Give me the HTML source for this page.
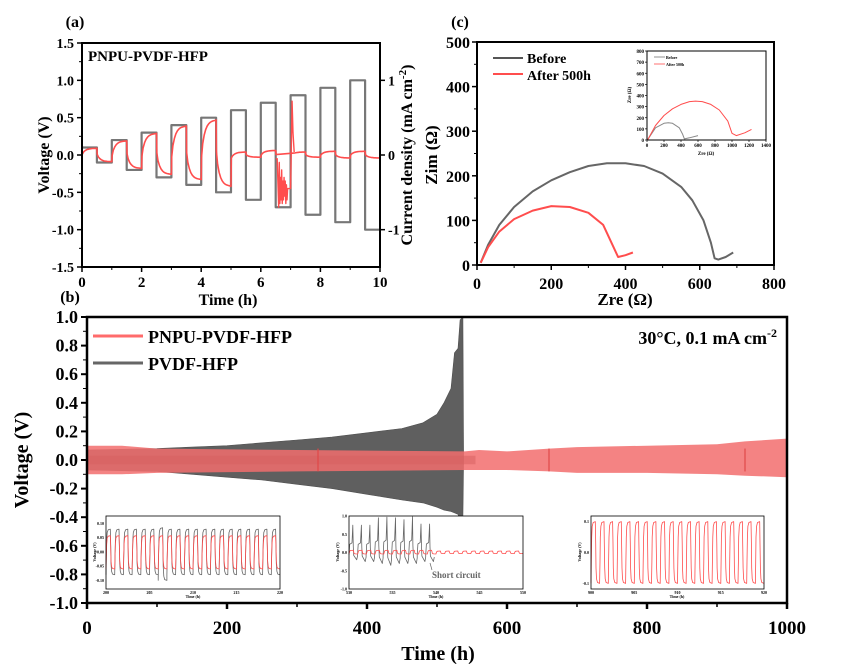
<!DOCTYPE html>
<html><head><meta charset="utf-8"><style>
body{margin:0;background:#fff}
svg{display:block;font-family:"Liberation Serif",serif;font-weight:bold}
</style></head><body>
<svg id="s" width="865" height="664" viewBox="0 0 865 664"></svg>
<script>
// ---------- DATA ----------
// panel a
const aHours=[0,1,2,3,4,5,6,7,8,9];
const aCurrent=[0.1,0.2,0.3,0.4,0.5,0.6,0.7,0.8,0.9,1.0];
const aVoltPos=[0.09,0.19,0.29,0.39,0.47,0.04,0.06,0.04,0.05,0.05];
const aVoltNeg=[-0.09,-0.18,-0.26,-0.33,-0.42,-0.03,-0.05,-0.03,-0.04,-0.04];
const aNoiseT=[6.55,6.6,6.62,6.64,6.66,6.68,6.7,6.72,6.74,6.76,6.78,6.8,6.82,6.84,6.86,6.88,6.9];
const aNoiseV=[-0.05,-0.7,-0.1,-0.65,-0.3,-0.6,-0.2,-0.65,-0.35,-0.6,-0.3,-0.55,-0.35,-0.65,-0.4,-0.6,-0.45];
const aSpikeT=[7.0,7.05,7.08,7.12];
const aSpikeV=[-0.45,0.72,0.3,0.04];
// panel c
const cBeforeX=[10,30,60,100,150,200,250,300,350,400,450,500,550,580,610,630,640,650,670,690];
const cBeforeY=[5,45,90,130,165,190,208,222,228,228,222,205,175,145,100,50,15,12,18,28];
const cAfterX=[10,30,60,100,150,200,250,300,340,365,380,400,420];
const cAfterY=[5,40,75,103,122,132,130,117,90,45,18,22,28];
const ciBeforeX=[10,100,200,250,300,380,420,440,500,600];
const ciBeforeY=[5,110,150,155,150,110,50,10,20,40];
const ciAfterX=[10,100,200,300,400,500,570,650,750,850,950,1000,1050,1150,1230];
const ciAfterY=[5,130,220,280,320,345,350,345,320,270,170,60,40,65,95];
// panel b envelopes
const bGrayT=[0,50,100,150,200,250,300,350,400,450,480,500,510,520,525,530,533,537,538];
const bGrayUp=[0.07,0.075,0.08,0.09,0.1,0.12,0.14,0.16,0.19,0.22,0.26,0.32,0.4,0.5,0.75,0.78,0.98,1.0,0.0];
const bGrayLo=[-0.07,-0.075,-0.08,-0.1,-0.12,-0.14,-0.17,-0.2,-0.24,-0.28,-0.3,-0.33,-0.35,-0.36,-0.37,-0.38,-0.42,-0.4,0];
const bRedT=[0,50,100,300,540,560,600,660,700,800,900,940,1000];
const bRedUp=[0.1,0.1,0.08,0.07,0.06,0.07,0.06,0.08,0.09,0.1,0.11,0.13,0.15];
const bRedLo=[-0.1,-0.1,-0.09,-0.08,-0.07,-0.07,-0.07,-0.08,-0.09,-0.09,-0.1,-0.11,-0.12];
// insets
const in1Gray=[0.08,0.08,0.08,0.08,0.08,0.08,0.085,0.08,0.08,0.08,0.08,0.08,0.08,0.08,0.08,0.08,0.08,0.08,0.08,0.08];
const in1GrayLo=[-0.08,-0.08,-0.08,-0.08,-0.08,-0.08,-0.1,-0.08,-0.08,-0.08,-0.08,-0.08,-0.08,-0.08,-0.08,-0.08,-0.08,-0.08,-0.08,-0.08];
const in2Peaks=[0.75,0.75,0.75,0.95,0.97,0.95,0.9,0.98,0.78,0.78];
const in2Lows=[-0.2,-0.25,-0.25,-0.3,-0.35,-0.3,-0.3,-0.3,-0.25,-0.25];
const in3Peaks=[0.1,0.1,0.1,0.1,0.1,0.1,0.1,0.1,0.1,0.1,0.1,0.1,0.1,0.1,0.1,0.1,0.1,0.1,0.1,0.1];

// ---------- helpers ----------
const S=document.getElementById('s');const NS='http://www.w3.org/2000/svg';
function el(t,a,txt){const e=document.createElementNS(NS,t);for(const k in a)e.setAttribute(k,a[k]);if(txt!=null)e.textContent=txt;S.appendChild(e);return e;}
function lin(d0,d1,r0,r1){return v=>r0+(v-d0)*(r1-r0)/(d1-d0);}
function txt(x,y,s,size,anchor,name,rot){const e=el('text',{x:x,y:y,'font-size':size,'text-anchor':anchor||'middle'},s);if(rot)e.setAttribute('transform','rotate(-90 '+x+' '+y+')');return e;}
function path(d,stroke,w,name,fill){const e=el('path',{d:d,stroke:stroke,'stroke-width':w,fill:fill||'none','stroke-linejoin':'round'});return e;}
function frame(x0,y0,x1,y1,w,name){const e=el('rect',{x:x0,y:y0,width:x1-x0,height:y1-y0,fill:'none',stroke:'#000','stroke-width':w});}
function tick(x1,y1,x2,y2,w){const e=el('line',{x1:x1,y1:y1,x2:x2,y2:y2,stroke:'#000','stroke-width':w||1.5});}
const GRAY='#6e6e6e',RED='#ff4d4d';

// ---------- panel a ----------
{const X=lin(0,10,82,380),Y=lin(-1.5,1.5,267,43);
txt(75,27,'(a)',16,'middle','panel-a-label');
[-1.5,-1,-0.5,0,0.5,1,1.5].forEach(v=>{tick(82,Y(v),77,Y(v));txt(74,Y(v)+5,v.toFixed(1),14,'end','a-y-tick-label');});
[-1.25,-0.75,-0.25,0.25,0.75,1.25].forEach(v=>tick(82,Y(v),79,Y(v),1));
[0,2,4,6,8,10].forEach(v=>{tick(X(v),267,X(v),272);txt(X(v),287,v,15,'middle','a-x-tick-label');});
[1,3,5,7,9].forEach(v=>tick(X(v),267,X(v),270,1));
[-1,0,1].forEach(v=>{tick(380,Y(v),385,Y(v));txt(388,Y(v)+5,v,14,'start','a-right-tick-label');});
txt(49,155,'Voltage (V)',16,'middle','a-y-axis-title',true);
txt(412,155,'Current density (mA cm',16,'middle','a-right-axis-title',true).innerHTML='Current density (mA cm<tspan dy="-6" font-size="11">-2</tspan><tspan dy="6">)</tspan>';
txt(228,305,'Time (h)',16,'middle','a-x-axis-title');
txt(88,61,'PNPU-PVDF-HFP',15,'start','a-annotation');
let d='M'+X(0)+' '+Y(0.1);
aHours.forEach((h,i)=>{const c=aCurrent[i];d+=' L'+X(h)+' '+Y(c)+' L'+X(h+0.5)+' '+Y(c)+' L'+X(h+0.5)+' '+Y(-c)+' L'+X(h+1)+' '+Y(-c)+(i<9?' L'+X(h+1)+' '+Y(aCurrent[i+1]):'');});
path(d,'#777',2.2,'current-density-series');
let p=[];let prev=aVoltPos[0];
aHours.forEach((h,i)=>{[[h,aVoltPos[i]],[h+0.5,aVoltNeg[i]]].forEach(([t0,v])=>{const st=prev*0.1;p.push([t0,prev]);p.push([t0+0.01,st]);for(let k=1;k<=10;k++){const t=t0+0.05*k;const f=1-Math.exp(-k/2.2);p.push([t,st+(v-st)*f]);}prev=v;});});
let vd='';p.forEach((q,j)=>{if(q[0]>=6.55&&q[0]<=7.12)return;vd+=(vd?' L':'M')+X(q[0]).toFixed(1)+' '+Y(q[1]).toFixed(1);});
path(vd,RED,1.6,'voltage-series');
let nd='M'+X(6.5)+' '+Y(-0.05);aNoiseT.forEach((t,i)=>nd+=' L'+X(t)+' '+Y(aNoiseV[i]));aSpikeT.forEach((t,i)=>nd+=' L'+X(t)+' '+Y(aSpikeV[i]));
path(nd,RED,1.4,'voltage-short-circuit-segment');
frame(82,43,380,267,2,'a-plot-frame');}

// ---------- panel c ----------
{const X=lin(0,800,477,774),Y=lin(0,500,265,42);
txt(460,27,'(c)',16,'middle','panel-c-label');
[0,100,200,300,400,500].forEach(v=>{tick(477,Y(v),472,Y(v));txt(470,Y(v)+6,v,16,'end','c-y-tick-label');});
[50,150,250,350,450].forEach(v=>tick(477,Y(v),474,Y(v),1));
[0,200,400,600,800].forEach(v=>{tick(X(v),265,X(v),270);txt(X(v),289,v,16,'middle','c-x-tick-label');});
[100,300,500,700].forEach(v=>tick(X(v),265,X(v),268,1));
txt(437,155,'Zim (Ω)',17,'middle','c-y-axis-title',true);
txt(625,305,'Zre (Ω)',17,'middle','c-x-axis-title');
path('M493 58 L523 58','#555',2,'legend-before-line');txt(527,63,'Before',14,'start','legend-before-text');
path('M493 74 L523 74',RED,2,'legend-after-line');txt(527,80,'After 500h',14,'start','legend-after-text');
const line=(xs,ys,c,n,Xf,Yf,w)=>path(xs.map((x,i)=>(i?'L':'M')+Xf(x).toFixed(1)+' '+Yf(ys[i]).toFixed(1)).join(' '),c,w,n);
line(cBeforeX,cBeforeY,'#666','nyquist-before',X,Y,2);
line(cAfterX,cAfterY,RED,'nyquist-after',X,Y,2);
frame(477,42,774,265,2,'c-plot-frame');
const IX=lin(0,1400,647,766),IY=lin(0,800,140,51);
[0,100,200,300,400,500,600,700,800].forEach(v=>{tick(647,IY(v),645,IY(v),0.7);txt(644,IY(v)+2,v,5,'end','c-inset-y-tick');});
[0,200,400,600,800,1000,1200,1400].forEach(v=>{tick(IX(v),140,IX(v),142,0.7);txt(IX(v),147,v,5,'middle','c-inset-x-tick');});
txt(631,95,'Zre (Ω)',5,'middle','c-inset-y-title',true);txt(706,155,'Zre (Ω)',5,'middle','c-inset-x-title');
path('M654 57 L665 57','#777',0.8,'inset-legend-before');txt(666,59,'Before',4,'start','inset-legend-before-text');
path('M654 64 L665 64',RED,0.8,'inset-legend-after');txt(666,66,'After 500h',4,'start','inset-legend-after-text');
line(ciBeforeX,ciBeforeY,'#888','inset-nyquist-before',IX,IY,1);
line(ciAfterX,ciAfterY,RED,'inset-nyquist-after',IX,IY,1);
frame(647,51,766,140,1,'c-inset-frame');}

// ---------- panel b ----------
{const X=lin(0,1000,87,787),Y=lin(-1,1,603,317);
txt(70,302,'(b)',16,'middle','panel-b-label');
for(let v=-1;v<=1.001;v+=0.2){const vv=Math.round(v*10)/10;tick(87,Y(vv),81,Y(vv),2);txt(78,Y(vv)+6,vv.toFixed(1),18,'end','b-y-tick-label');}
for(let v=-0.9;v<=0.95;v+=0.2)tick(87,Y(v),83,Y(v),1);
[0,200,400,600,800,1000].forEach(v=>{tick(X(v),603,X(v),609,2.5);txt(X(v),634,v,19,'middle','b-x-tick-label');});
[100,300,500,700,900].forEach(v=>tick(X(v),603,X(v),607,1.5));
txt(28,460,'Voltage (V)',20,'middle','b-y-axis-title',true);
txt(438,660,'Time (h)',20,'middle','b-x-axis-title');
const env=(T,U,L)=>{let d='';T.forEach((t,i)=>d+=(i?'L':'M')+X(t).toFixed(1)+' '+Y(U[i]).toFixed(1)+' ');for(let i=T.length-1;i>=0;i--)d+='L'+X(T[i]).toFixed(1)+' '+Y(L[i]).toFixed(1)+' ';return d+'Z';};
path(env(bGrayT,bGrayUp,bGrayLo),'#505050',0.6,'pvdf-hfp-series','#5f5f5f');
const r=path(env(bRedT,bRedUp,bRedLo),'none',0,'pnpu-pvdf-hfp-series','#f26d6d');r.setAttribute('fill-opacity','0.85');
const dr=el('rect',{x:X(0),y:Y(0.03),width:X(555)-X(0),height:Y(-0.03)-Y(0.03),fill:'#d55f5f','fill-opacity':0.5});
[330,660,940].forEach(t=>{const l=el('line',{x1:X(t),x2:X(t),y1:Y(0.08),y2:Y(-0.08),stroke:'#e04848','stroke-width':1.2});});
path('M93 336 L143 336','#ff6b6b',3,'legend-pnpu-line');txt(148,343,'PNPU-PVDF-HFP',18,'start','legend-pnpu-text');
path('M93 363 L143 363','#666',3,'legend-pvdf-line');txt(148,370,'PVDF-HFP',18,'start','legend-pvdf-text');
txt(777,344,'',18,'end','condition-annotation').innerHTML='30°C, 0.1 mA cm<tspan dy="-7" font-size="12">-2</tspan>';
function wave(x0,x1,y0,y1,t0,t1,vmin,vmax,peaks,lows,start,color,name,ncyc,sharp){
 const IX=lin(t0,t1,x0,x1),IY=lin(vmin,vmax,y1,y0);let d='';
 for(let i=0;i<ncyc;i++){const ts=start+i*(t1-start)/ncyc,dt=(t1-start)/ncyc;const pk=peaks[i],lo=lows[i];
  const pts=sharp?[[ts,lo*0.3],[ts+dt*0.08,pk*0.3],[ts+dt*0.35,pk*0.35],[ts+dt*0.45,pk],[ts+dt*0.5,pk*0.2],[ts+dt*0.55,lo*0.4],[ts+dt*0.9,lo],[ts+dt,lo*0.5]]
  :[[ts,lo],[ts+dt*0.04,lo*0.3],[ts+dt*0.08,pk*0.5],[ts+dt*0.14,pk*0.85],[ts+dt*0.25,pk*0.97],[ts+dt*0.5,pk],[ts+dt*0.54,pk*0.3],[ts+dt*0.58,lo*0.5],[ts+dt*0.64,lo*0.85],[ts+dt*0.75,lo*0.97],[ts+dt,lo]];
  pts.forEach(q=>d+=(d?'L':'M')+IX(q[0]).toFixed(1)+' '+IY(q[1]).toFixed(1)+' ');}
 return path(d,color,0.8,name);}
{const x0=106,x1=280,y0=516,y1=589,vmin=-0.13,vmax=0.126;const IY=lin(vmin,vmax,y1,y0),IX=lin(200,220,x0,x1);
 el('rect',{x:x0,y:y0,width:x1-x0,height:y1-y0,fill:'#fff'});
 wave(x0,x1,y0,y1,200,220,vmin,vmax,in1Gray,in1GrayLo,200,'#666','inset-1-pvdf',20,false);
 wave(x0,x1,y0,y1,200,220,vmin,vmax,in1Gray.map(v=>0.057),in1Gray.map(v=>-0.06),200,RED,'inset-1-pnpu',20,false);
 [-0.1,-0.05,0,0.05,0.1].forEach(v=>txt(x0-2,IY(v)+1.5,v.toFixed(2),4,'end','inset-1-y-tick'));
 [200,205,210,215,220].forEach(v=>txt(IX(v),y1+5,v,4,'middle','inset-1-x-tick'));
 txt(x0-10,552,'Voltage (V)',4,'middle','inset-1-y-title',true);txt(193,598,'Time (h)',4,'middle','inset-1-x-title');
 frame(x0,y0,x1,y1,0.8,'inset-1-frame');}
{const x0=349,x1=523,y0=516,y1=589,IY=lin(-1,1,y1,y0),IX=lin(530,550,x0,x1);
 el('rect',{x:x0,y:y0,width:x1-x0,height:y1-y0,fill:'#fff'});
 wave(x0,IX(539.8),y0,y1,530,539.8,-1,1,in2Peaks,in2Lows,530,'#666','inset-2-pvdf',10,true);
 wave(x0,x1,y0,y1,530,550,-1,1,in2Peaks.concat(in2Peaks).map((v,i)=>i<10?0.06:0.04),in2Peaks.concat(in2Peaks).map((v,i)=>i<10?-0.04:-0.03),530,RED,'inset-2-pnpu',20,false);
 [-1,-0.5,0,0.5,1].forEach(v=>txt(x0-2,IY(v)+1.5,v.toFixed(1),4,'end','inset-2-y-tick'));
 [530,535,540,545,550].forEach(v=>txt(IX(v),y1+5,v,4,'middle','inset-2-x-tick'));
 txt(x0-10,552,'Voltage (V)',4,'middle','inset-2-y-title',true);txt(436,598,'Time (h)',4,'middle','inset-2-x-title');
 txt(432,578,'Short circuit',9,'start','short-circuit-annotation').setAttribute('fill','#666');
 path('M432 570 L430 563','#666',0.7,'short-circuit-arrow');
 frame(x0,y0,x1,y1,0.8,'inset-2-frame');}
{const x0=591,x1=764,y0=516,y1=589,IY=lin(-0.118,0.118,y1,y0),IX=lin(900,920,x0,x1);
 el('rect',{x:x0,y:y0,width:x1-x0,height:y1-y0,fill:'#fff'});
 wave(x0,x1,y0,y1,900,920,-0.118,0.118,in3Peaks,in3Peaks.map(v=>-v),900,RED,'inset-3-pnpu',20,false);
 [-0.1,0,0.1].forEach(v=>txt(x0-2,IY(v)+1.5,v.toFixed(1),4,'end','inset-3-y-tick'));
 [900,905,910,915,920].forEach(v=>txt(IX(v),y1+5,v,4,'middle','inset-3-x-tick'));
 txt(x0-10,552,'Voltage (V)',4,'middle','inset-3-y-title',true);txt(677,598,'Time (h)',4,'middle','inset-3-x-title');
 frame(x0,y0,x1,y1,0.8,'inset-3-frame');}
frame(87,317,787,603,2.5,'b-plot-frame');}
</script>
</body></html>
